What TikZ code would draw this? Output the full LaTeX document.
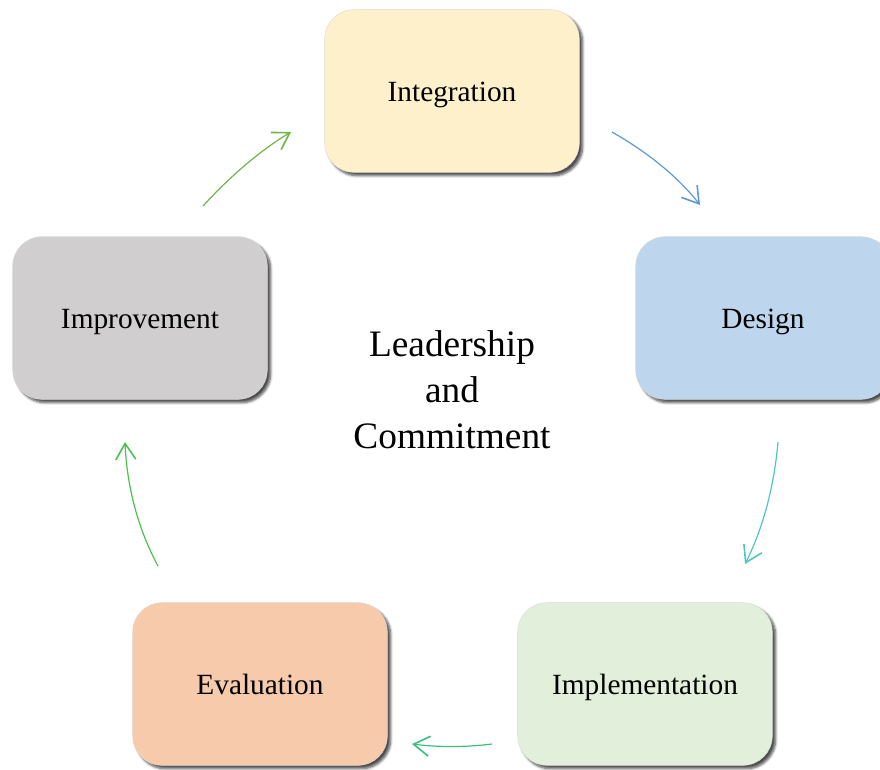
\documentclass[tikz,border=0pt]{standalone}
\usepackage{fontspec}
\setmainfont{Liberation Serif}
\usetikzlibrary{arrows.meta,shadows,shadows.blur}
\definecolor{cInt}{HTML}{FDF0CB}
\definecolor{cDes}{HTML}{BDD6EE}
\definecolor{cImp}{HTML}{D0CECE}
\definecolor{cEva}{HTML}{F7CAAB}
\definecolor{cImpl}{HTML}{E2EFDA}
\definecolor{aBlue}{HTML}{5B9BD5}
\definecolor{aTeal}{HTML}{4FC4C6}
\definecolor{aGreenA}{HTML}{3DBE7E}
\definecolor{aGreenB}{HTML}{4DC14D}
\definecolor{aGreenC}{HTML}{6FB54A}
\tikzset{
  stagebox/.style={rounded corners=22pt, minimum width=191pt, minimum height=122pt,
    inner sep=0pt, text height=15pt, text depth=0pt,
    font=\fontsize{22}{26}\selectfont, draw=black!15, line width=0.3pt,
    blur shadow={shadow xshift=2.5pt, shadow yshift=-2.5pt, shadow blur steps=6, shadow opacity=70}},
  cyc/.style={line width=0.9pt, -{Straight Barb[length=12pt,width=15pt,line width=1.2pt]}},
}
\begin{document}
\begin{tikzpicture}[x=0.75pt,y=-0.75pt]
\useasboundingbox (0,0) rectangle (880,769);
\node[stagebox, fill=cInt] (integ) at (452,91) {Integration};
\node[stagebox, fill=cDes] (design) at (763,318) {Design};
\node[stagebox, fill=cImp] (improve) at (140,318) {Improvement};
\node[stagebox, fill=cEva] (eval) at (260,684) {Evaluation};
\node[stagebox, fill=cImpl] (implem) at (645,684) {Implementation};
\node[align=center, font=\fontsize{28}{34.5}\selectfont] (center) at (452,390) {Leadership\\and\\Commitment};

\coordinate (a1s) at (612,132); \coordinate (a1e) at (700,205);
\coordinate (a2s) at (778,442); \coordinate (a2e) at (745,564);
\coordinate (a3s) at (492,744); \coordinate (a3e) at (412,744);
\coordinate (a4s) at (158,566); \coordinate (a4e) at (125,442);
\coordinate (a5s) at (203,206); \coordinate (a5e) at (291,132);

\draw[cyc, aBlue] (a1s) .. controls (649.3,153.3) and (678.7,177.7) .. (a1e);
\draw[cyc, aTeal] (a2s) .. controls (774,487.3) and (763,528) .. (a2e);
\draw[cyc, aGreenA] (a3s) .. controls (465.3,747.3) and (438.7,747.3) .. (a3e);
\draw[cyc, aGreenB] (a4s) .. controls (138,528.7) and (127,487.3) .. (a4e);
\draw[cyc, aGreenC] (a5s) .. controls (231.7,174.7) and (261,150) .. (a5e);
\end{tikzpicture}
\end{document}
